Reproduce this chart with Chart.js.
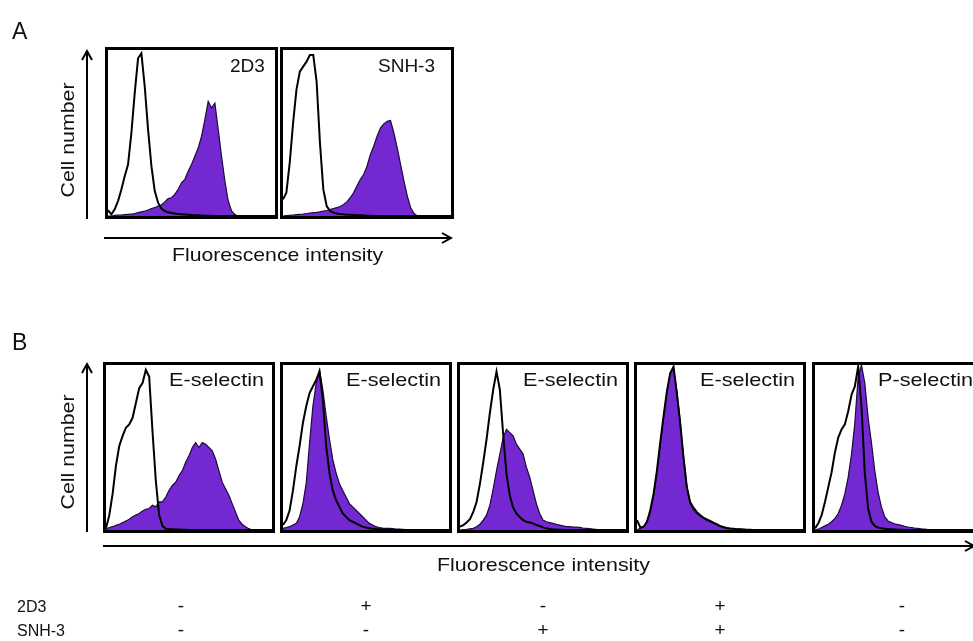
<!DOCTYPE html>
<html>
<head>
<meta charset="utf-8">
<script src="https://cdn.jsdelivr.net/npm/chart.js@4"></script>
<style>
html,body{margin:0;padding:0;width:973px;height:641px;overflow:hidden;background:#fff;}
.box{position:absolute;border:3px solid #000;box-sizing:border-box;background:#fff;}
.box canvas{display:block;}
#ov{position:absolute;left:0;top:0;pointer-events:none;}
text{font-family:"Liberation Sans",Arial,sans-serif;fill:#111;}
</style>
</head>
<body>
<script>
// Fluorescence channels (histogram bins)
const channels = [0,20,40,60,80,100,120,140,160,180,200,220,240,260,280,300,320,340,360,380,400,420,440,460,480,500,520,540,560,580,600,620,640,660,680,700,720,740,760,780,800,820,840,860,880,900,920,940,960,980,1000];

// Panel A – 2D3
const a1Control = [0.035,0.01,0.04,0.09,0.16,0.24,0.31,0.50,0.74,0.95,0.98,0.78,0.52,0.30,0.15,0.08,0.045,0.03,0.022,0.018,0.015,0.012,0.01,0.009,0.008,0.006,0.005,0.004,0.003,0.002,0.002,0.001,0,0,0,0,0,0,0,0,0,0,0,0,0,0,0,0,0,0,0];
const a1Stain   = [0,0,0.004,0.005,0.006,0.008,0.01,0.012,0.014,0.02,0.025,0.03,0.036,0.045,0.05,0.06,0.066,0.085,0.105,0.11,0.13,0.16,0.20,0.22,0.27,0.31,0.36,0.41,0.48,0.58,0.69,0.65,0.68,0.52,0.36,0.21,0.09,0.03,0.008,0,0,0,0,0,0,0,0,0,0,0,0];
// Panel A – SNH-3
const a2Control = [0.10,0.14,0.32,0.56,0.76,0.87,0.90,0.93,0.97,0.97,0.81,0.44,0.16,0.06,0.03,0.02,0.015,0.012,0.01,0.008,0.007,0.006,0.005,0.004,0.003,0.002,0.001,0,0,0,0,0,0,0,0,0,0,0,0,0,0,0,0,0,0,0,0,0,0,0,0];
const a2Stain   = [0,0.002,0.004,0.006,0.008,0.01,0.012,0.015,0.018,0.02,0.022,0.025,0.03,0.033,0.038,0.045,0.05,0.057,0.07,0.085,0.11,0.14,0.18,0.22,0.25,0.30,0.37,0.42,0.48,0.53,0.555,0.57,0.575,0.50,0.41,0.31,0.21,0.12,0.05,0.015,0,0,0,0,0,0,0,0,0,0,0];

// Panel B – E-selectin, no antibody
const b1Control = [0.01,0.09,0.22,0.39,0.51,0.57,0.62,0.64,0.68,0.77,0.86,0.89,0.97,0.93,0.60,0.30,0.09,0.025,0.008,0.005,0.004,0.003,0.003,0.002,0.001,0,0,0,0,0,0,0,0,0,0,0,0,0,0,0,0,0,0,0,0,0,0,0,0,0,0];
const b1Stain   = [0.005,0.015,0.02,0.028,0.035,0.045,0.055,0.065,0.08,0.09,0.10,0.115,0.125,0.13,0.15,0.14,0.17,0.17,0.20,0.24,0.27,0.29,0.33,0.36,0.41,0.45,0.50,0.53,0.50,0.53,0.52,0.50,0.48,0.43,0.36,0.29,0.25,0.21,0.16,0.11,0.06,0.035,0.02,0.008,0,0,0,0,0,0,0];
// Panel B – E-selectin, 2D3
const b2Control = [0.03,0.06,0.12,0.24,0.385,0.51,0.65,0.75,0.83,0.87,0.91,0.96,0.79,0.51,0.345,0.24,0.18,0.14,0.10,0.08,0.06,0.05,0.04,0.03,0.02,0.015,0.01,0.008,0.006,0.005,0.004,0.003,0.002,0.001,0,0,0,0,0,0,0,0,0,0,0,0,0,0,0,0,0];
const b2Stain   = [0.01,0.015,0.02,0.03,0.04,0.08,0.16,0.285,0.527,0.75,0.89,0.97,0.85,0.69,0.55,0.426,0.345,0.28,0.24,0.20,0.16,0.14,0.12,0.10,0.08,0.06,0.04,0.03,0.02,0.015,0.012,0.01,0.01,0.008,0.006,0.005,0.004,0.003,0.003,0.002,0.001,0,0,0,0,0,0,0,0,0,0];
// Panel B – E-selectin, SNH-3
const b3Control = [0.02,0.03,0.045,0.065,0.11,0.17,0.28,0.41,0.55,0.71,0.85,0.96,0.85,0.58,0.34,0.21,0.135,0.10,0.078,0.06,0.05,0.045,0.04,0.03,0.024,0.016,0.01,0.006,0.004,0.003,0.002,0.001,0,0,0,0,0,0,0,0,0,0,0,0,0,0,0,0,0,0,0];
const b3Stain   = [0,0.002,0.004,0.007,0.01,0.02,0.035,0.06,0.09,0.15,0.25,0.36,0.46,0.56,0.61,0.59,0.57,0.52,0.49,0.46,0.38,0.32,0.24,0.16,0.10,0.06,0.05,0.045,0.04,0.035,0.03,0.025,0.02,0.02,0.018,0.017,0.016,0.012,0.01,0.008,0.006,0.004,0.003,0.001,0,0,0,0,0,0,0];
// Panel B – E-selectin, 2D3 + SNH-3
const b4Control = [0.06,0.015,0.02,0.05,0.12,0.22,0.36,0.53,0.69,0.84,0.95,0.99,0.83,0.65,0.44,0.26,0.17,0.135,0.11,0.09,0.075,0.065,0.055,0.045,0.035,0.025,0.018,0.012,0.009,0.007,0.005,0.004,0.003,0.002,0.001,0,0,0,0,0,0,0,0,0,0,0,0,0,0,0,0];
const b4Stain   = [0,0.01,0.02,0.05,0.11,0.21,0.35,0.52,0.68,0.83,0.95,0.98,0.84,0.66,0.45,0.27,0.16,0.12,0.10,0.085,0.07,0.06,0.05,0.04,0.03,0.022,0.016,0.012,0.01,0.008,0.006,0.005,0.004,0.003,0.002,0.001,0,0,0,0,0,0,0,0,0,0,0,0,0,0,0];
// Panel B – P-selectin, no antibody
const b5Control = [0.01,0.04,0.09,0.17,0.26,0.35,0.47,0.56,0.61,0.64,0.72,0.82,0.87,0.99,0.75,0.345,0.13,0.05,0.025,0.015,0.01,0.008,0.005,0.004,0.003,0.002,0.001,0,0,0,0,0,0,0,0,0,0,0,0,0,0,0,0,0,0,0,0,0,0,0,0];
const b5Stain   = [0,0.005,0.015,0.025,0.035,0.05,0.07,0.10,0.15,0.22,0.32,0.46,0.65,0.93,1.0,0.89,0.68,0.53,0.36,0.23,0.14,0.08,0.055,0.045,0.038,0.033,0.028,0.022,0.018,0.015,0.012,0.01,0.007,0.005,0.003,0.002,0.001,0,0,0,0,0,0,0,0,0,0,0,0,0,0];

// Panel labels and treatment table
const panelALabels = ["2D3","SNH-3"];
const panelBLabels = ["E-selectin","E-selectin","E-selectin","E-selectin","P-selectin"];
const row2D3  = ["-","+","-","+","-"];
const rowSNH3 = ["-","-","+","+","-"];

const PURPLE = "#7328D2";

const panels = [
  {left:105, top:47, w:173, h:172, stain:a1Stain, ctrl:a1Control},
  {left:280, top:47, w:174, h:172, stain:a2Stain, ctrl:a2Control},
  {left:103, top:362, w:172, h:171, stain:b1Stain, ctrl:b1Control},
  {left:280, top:362, w:172, h:171, stain:b2Stain, ctrl:b2Control},
  {left:457, top:362, w:172, h:171, stain:b3Stain, ctrl:b3Control},
  {left:634, top:362, w:172, h:171, stain:b4Stain, ctrl:b4Control},
  {left:812, top:362, w:172, h:171, stain:b5Stain, ctrl:b5Control}
];

panels.forEach(p => {
  const d = document.createElement('div');
  d.className = 'box';
  d.style.left = p.left + 'px'; d.style.top = p.top + 'px';
  d.style.width = p.w + 'px'; d.style.height = p.h + 'px';
  const c = document.createElement('canvas');
  const cw = p.w - 6, ch = p.h - 6;
  c.width = cw; c.height = ch;
  c.style.width = cw + 'px'; c.style.height = ch + 'px';
  d.appendChild(c);
  document.body.appendChild(d);
  new Chart(c.getContext('2d'), {
    type: 'line',
    data: {
      labels: channels,
      datasets: [
        {data: p.ctrl, borderColor: '#000', borderWidth: 2, fill: false, pointRadius: 0, tension: 0, order: 1},
        {data: p.stain, borderColor: '#1c0a3a', borderWidth: 1.2, backgroundColor: PURPLE, fill: 'origin', pointRadius: 0, tension: 0, order: 2}
      ]
    },
    options: {
      responsive: false, animation: false, events: [],
      devicePixelRatio: 1,
      layout: {padding: 0},
      plugins: {legend: {display: false}, tooltip: {enabled: false}},
      scales: {
        x: {display: false, offset: false},
        y: {display: false, min: 0, max: 1}
      }
    }
  });
});

// overlay: axes arrows and text
const svgNS = "http://www.w3.org/2000/svg";
const svg = document.createElementNS(svgNS, 'svg');
svg.setAttribute('id', 'ov');
svg.setAttribute('width', 973); svg.setAttribute('height', 641);
document.body.appendChild(svg);
function el(tag, attrs, txt) {
  const e = document.createElementNS(svgNS, tag);
  for (const k in attrs) e.setAttribute(k, attrs[k]);
  if (txt !== undefined) e.textContent = txt;
  svg.appendChild(e); return e;
}
const ln = {stroke:'#000','stroke-width':2,fill:'none'};
// Panel A arrows
el('line', Object.assign({x1:87,y1:219,x2:87,y2:51}, ln));
el('polyline', Object.assign({points:'82,60 87,51 92,60'}, ln));
el('line', Object.assign({x1:104,y1:238,x2:451,y2:238}, ln));
el('polyline', Object.assign({points:'442,233 451,238 442,243'}, ln));
// Panel B arrows
el('line', Object.assign({x1:87,y1:532,x2:87,y2:364}, ln));
el('polyline', Object.assign({points:'82,373 87,364 92,373'}, ln));
el('line', Object.assign({x1:103,y1:546,x2:973,y2:546}, ln));
el('polyline', Object.assign({points:'965,541 974,546 965,551'}, ln));

// Letters
el('text', {x:12, y:39, 'font-size':23}, 'A');
el('text', {x:12, y:350, 'font-size':23}, 'B');
// Panel A labels
el('text', {x:230, y:72, 'font-size':19}, panelALabels[0]);
el('text', {x:378, y:72, 'font-size':19}, panelALabels[1]);
// Panel B labels
panels.slice(2).forEach((p, i) => {
  el('text', {x:p.left+66, y:386, 'font-size':19, textLength:95, lengthAdjust:'spacingAndGlyphs'}, panelBLabels[i]);
});
// Axis titles
el('text', {x:0, y:0, 'font-size':19, 'text-anchor':'middle', textLength:115, lengthAdjust:'spacingAndGlyphs', transform:'translate(74,140) rotate(-90)'}, 'Cell number');
el('text', {x:0, y:0, 'font-size':19, 'text-anchor':'middle', textLength:115, lengthAdjust:'spacingAndGlyphs', transform:'translate(74,452) rotate(-90)'}, 'Cell number');
el('text', {x:172, y:261, 'font-size':19, textLength:211, lengthAdjust:'spacingAndGlyphs'}, 'Fluorescence intensity');
el('text', {x:437, y:571, 'font-size':19, textLength:213, lengthAdjust:'spacingAndGlyphs'}, 'Fluorescence intensity');
// Treatment table
el('text', {x:17, y:612, 'font-size':16}, '2D3');
el('text', {x:17, y:636, 'font-size':16}, 'SNH-3');
const signX = [181, 366, 543, 720, 902];
signX.forEach((x, i) => {
  el('text', {x:x, y:612, 'font-size':19, 'text-anchor':'middle'}, row2D3[i]);
  el('text', {x:x, y:636, 'font-size':19, 'text-anchor':'middle'}, rowSNH3[i]);
});
</script>
</body>
</html>
